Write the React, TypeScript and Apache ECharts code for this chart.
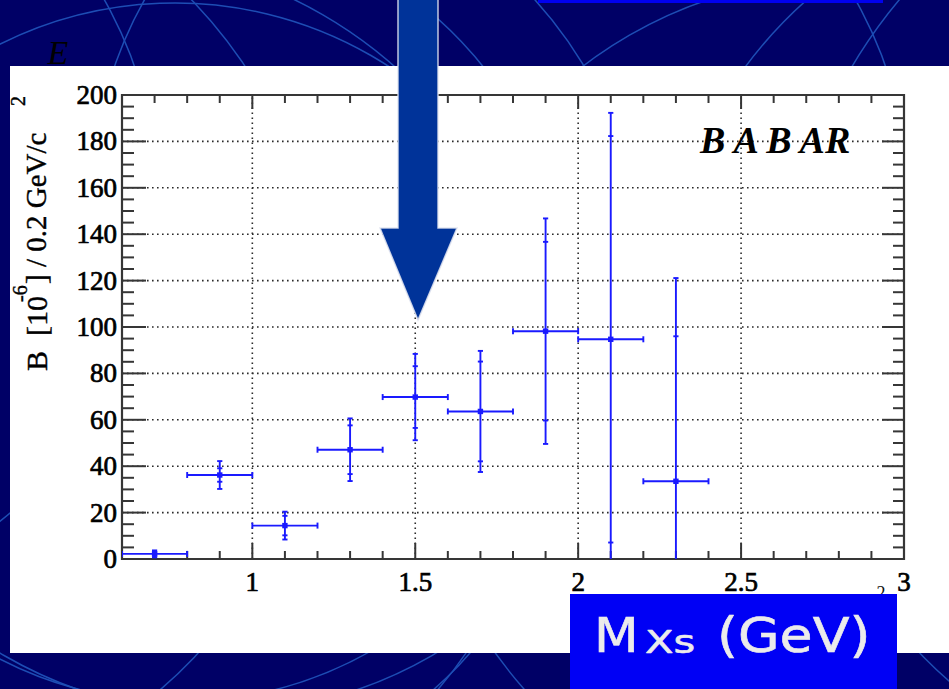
import React, { useEffect, useRef } from "react";
import * as echarts from "echarts";

// B -> Xs gamma partial branching fraction per 0.2 GeV bin of M(Xs)
const binCenters = [0.7, 0.9, 1.1, 1.3, 1.5, 1.7, 1.9, 2.1, 2.3];
const branchingFraction = [2.2, 36.2, 14.4, 47.1, 69.8, 63.6, 98.2, 94.7, 33.5];
const statError = [0.8, 2.9, 4.2, 10.5, 13.3, 21.5, 38.5, 87.6, 62.5];
const totalError = [1.5, 6.0, 6.0, 13.5, 18.6, 26.1, 48.6, 97.6, 87.6];
const binHalfWidth = 0.1;

// axis layout values
const xRange = [0.6, 3.0];
const yRange = [0, 200];
const xLabelValues = [1, 1.5, 2, 2.5, 3];
const xGridValues = [1, 1.5, 2, 2.5];
const yGridValues = [20, 40, 60, 80, 100, 120, 140, 160, 180];

const SERIF = "Liberation Serif";
const FRAME = "#363636";
const MARK = "#1a1aff";

// faint arcs of the slide background
const bgArcs = [
  [175, 395, 392],
  [-250, 200, 407],
  [500, 200, 408],
  [-150, 330, 475],
  [100, 400, 445],
  [843, 405, 427],
  [1107, 338, 452],
  [1272, 315, 488],
  [218, 286, 427],
  [178, 311, 391],
];

function renderFrame(params: any, api: any) {
  const [x0, yB] = api.coord([xRange[0], yRange[0]]);
  const [x1, yT] = api.coord([xRange[1], yRange[1]]);
  const children: any[] = [];
  const dotted = { stroke: "#2a2a2a", lineWidth: 1.6, lineDash: [1.6, 3.4] };
  yGridValues.forEach((v) => {
    const y = api.coord([xRange[0], v])[1];
    children.push({ type: "line", shape: { x1: x0, y1: y, x2: x1, y2: y }, style: dotted });
  });
  xGridValues.forEach((v) => {
    const x = api.coord([v, yRange[0]])[0];
    children.push({ type: "line", shape: { x1: x, y1: yB, x2: x, y2: yT }, style: dotted });
  });
  const tick = { stroke: FRAME, lineWidth: 2 };
  for (let k = 0; k <= 40; k++) {
    const v = k * 5;
    const major = v % 20 === 0;
    const y = api.coord([xRange[0], v])[1];
    children.push({ type: "line", shape: { x1: x0, y1: y, x2: x0 + (major ? 24 : 12), y2: y }, style: tick });
    children.push({ type: "line", shape: { x1: x1, y1: y, x2: x1 - (major ? 22 : 11), y2: y }, style: tick });
  }
  for (let k = 6; k <= 30; k++) {
    const v = k / 10;
    const major = k % 5 === 0;
    const x = api.coord([v, yRange[0]])[0];
    children.push({ type: "line", shape: { x1: x, y1: yB, x2: x, y2: yB - (major ? 16 : 8) }, style: tick });
    children.push({ type: "line", shape: { x1: x, y1: yT, x2: x, y2: yT + (major ? 14 : 8) }, style: tick });
  }
  children.push({
    type: "rect",
    shape: { x: x0, y: yT, width: x1 - x0, height: yB - yT },
    style: { fill: "none", stroke: FRAME, lineWidth: 2.2 },
  });
  return { type: "group", children };
}

function renderPoint(params: any, api: any) {
  const x = api.value(0);
  const y = api.value(1);
  const s = api.value(2);
  const t = api.value(3);
  const [cx, cy] = api.coord([x, y]);
  const xl = api.coord([x - binHalfWidth, y])[0];
  const xr = api.coord([x + binHalfWidth, y])[0];
  const ys = [y - t, y + t, y - s, y + s].map((v) => api.coord([x, v])[1]);
  const st = { stroke: MARK, lineWidth: 1.9 };
  const children: any[] = [
    { type: "line", shape: { x1: cx, y1: ys[0], x2: cx, y2: ys[1] }, style: st },
    { type: "line", shape: { x1: xl, y1: cy, x2: xr, y2: cy }, style: st },
    { type: "line", shape: { x1: xl, y1: cy - 3, x2: xl, y2: cy + 3 }, style: st },
    { type: "line", shape: { x1: xr, y1: cy - 3, x2: xr, y2: cy + 3 }, style: st },
    { type: "rect", shape: { x: cx - 2.7, y: cy - 2.7, width: 5.4, height: 5.4 }, style: { fill: MARK } },
  ];
  ys.forEach((yy) => {
    children.push({ type: "line", shape: { x1: cx - 2.6, y1: yy, x2: cx + 2.6, y2: yy }, style: st });
  });
  return { type: "group", children };
}

export default function App() {
  const ref = useRef<HTMLDivElement>(null);

  useEffect(() => {
    if (!ref.current) return;
    const chart = echarts.init(ref.current, null, { renderer: "svg" });

    const points = binCenters.map((x, i) => [x, branchingFraction[i], statError[i], totalError[i]]);

    const yTitle = (text: string, x: number, y: number, size: number) => ({
      type: "text",
      x,
      y,
      rotation: Math.PI / 2,
      z: 20,
      style: {
        text,
        font: `${size}px "${SERIF}"`,
        fill: "#000",
        stroke: "#000",
        lineWidth: 0.4,
        textAlign: "left",
        verticalAlign: "middle",
        textVerticalAlign: "middle",
      },
    });

    const boxText = (text: string, x: number, y: number, size: number, sx: number) => ({
      type: "text",
      x,
      y,
      scaleX: sx,
      z: 61,
      style: {
        text,
        font: `${size}px "DejaVu Sans"`,
        fill: "#ebebeb",
        stroke: "#ebebeb",
        lineWidth: 0.6,
        textAlign: "left",
        verticalAlign: "middle",
        textVerticalAlign: "middle",
      },
    });

    const tickLabel = {
      fontFamily: SERIF,
      fontSize: 27,
      color: "#000",
      textBorderColor: "#000",
      textBorderWidth: 0.7,
    };

    chart.setOption({
      animation: false,
      backgroundColor: "#000066",
      grid: {
        left: 122,
        top: 95,
        width: 782,
        height: 464,
        containLabel: false,
        outerBoundsMode: "none",
      },
      xAxis: {
        type: "value",
        min: xRange[0],
        max: xRange[1],
        interval: 0.1,
        axisLine: { show: false },
        axisTick: { show: false },
        splitLine: { show: false },
        axisLabel: {
          ...tickLabel,
          margin: 9,
          formatter: (v: number) =>
            xLabelValues.some((l) => Math.abs(l - v) < 1e-6) ? String(+v.toFixed(1)) : "",
        },
      },
      yAxis: {
        type: "value",
        min: yRange[0],
        max: yRange[1],
        interval: 20,
        axisLine: { show: false },
        axisTick: { show: false },
        splitLine: { show: false },
        axisLabel: { ...tickLabel, margin: 5 },
      },
      series: [
        {
          type: "custom",
          z: 3,
          clip: false,
          silent: true,
          data: [[xRange[0], yRange[0]]],
          renderItem: renderFrame,
        },
        {
          type: "custom",
          z: 4,
          clip: true,
          silent: true,
          data: points,
          renderItem: renderPoint,
        },
      ],
      graphic: [
        ...bgArcs.map(([cx, cy, r]) => ({
          type: "circle",
          silent: true,
          z: -20,
          shape: { cx, cy, r },
          style: { fill: "none", stroke: "#1d4db4", lineWidth: 1.5 },
        })),
        {
          type: "rect",
          silent: true,
          z: -10,
          shape: { x: 10, y: 66, width: 939, height: 587 },
          style: { fill: "#ffffff" },
        },
        {
          type: "text",
          x: 58,
          y: 52,
          z: 20,
          style: {
            text: "E",
            font: `italic 34px "${SERIF}"`,
            fill: "#000",
            textAlign: "center",
            verticalAlign: "middle",
            textVerticalAlign: "middle",
          },
        },
        yTitle("B  [10", 36, 371, 30),
        yTitle("-6", 20, 302, 20),
        yTitle("] / 0.2 GeV/c", 36, 284, 29),
        yTitle("2", 18, 106, 20),
        {
          type: "text",
          x: 700,
          y: 140,
          z: 20,
          style: {
            text: "B A B AR",
            font: `italic bold 38px "${SERIF}"`,
            fill: "#000",
            textAlign: "left",
            verticalAlign: "middle",
            textVerticalAlign: "middle",
          },
        },
        {
          type: "text",
          x: 881,
          y: 593,
          z: 20,
          style: {
            text: "2",
            font: `18px "${SERIF}"`,
            fill: "#111",
            textAlign: "center",
            verticalAlign: "middle",
            textVerticalAlign: "middle",
          },
        },
        {
          type: "polygon",
          z: 50,
          shape: {
            points: [
              [398, -2],
              [438, -2],
              [438, 228],
              [457, 228],
              [418, 320],
              [380, 228],
              [398, 228],
            ],
          },
          style: { fill: "#003399", stroke: "rgba(225,228,240,0.85)", lineWidth: 1.5 },
        },
        {
          type: "rect",
          z: 50,
          shape: { x: 538, y: 0, width: 345, height: 3 },
          style: { fill: "#0000f0" },
        },
        {
          type: "rect",
          z: 60,
          shape: { x: 570, y: 594, width: 327, height: 95 },
          style: { fill: "#0000f5" },
        },
        boxText("M", 594, 636, 48, 1.08),
        boxText("Xs", 645, 642, 32, 1.3),
        boxText("(GeV)", 717, 636, 48, 1.12),
      ],
    });

    return () => chart.dispose();
  }, []);

  return (
    <div
      ref={ref}
      style={{ position: "fixed", left: 0, top: 0, width: 949, height: 689 }}
    />
  );
}
